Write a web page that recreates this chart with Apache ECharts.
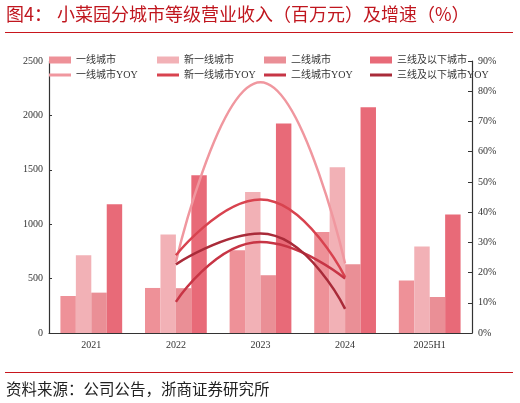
<!DOCTYPE html>
<html>
<head>
<meta charset="utf-8">
<script src="https://cdn.jsdelivr.net/npm/echarts@6/dist/echarts.min.js"></script>
<style>
  html, body { margin: 0; padding: 0; background: #fff; }
  #main { width: 520px; height: 403px; }
</style>
</head>
<body>
<div id="main"></div>
<script>
// 数据
var years = ['2021', '2022', '2023', '2024', '2025H1'];
var barNames = ['一线城市', '新一线城市', '二线城市', '三线及以下城市'];
var lineNames = ['一线城市YOY', '新一线城市YOY', '二线城市YOY', '三线及以下城市YOY'];

var tier1 = [340, 414, 761, 929, 482];
var newTier1 = [715, 905, 1297, 1524, 794];
var tier2 = [371, 412, 531, 632, 331];
var tier3 = [1184, 1451, 1926, 2074, 1089];

var tier1Yoy = [null, 23.5, 83, 23, null];
var newTier1Yoy = [null, 25.7, 44.2, 18.5, null];
var tier2Yoy = [null, 10.3, 30.1, 18, null];
var tier3Yoy = [null, 22.7, 32.9, 8, null];

var barColors = ['#ee9198', '#f2b1b6', '#ea8f96', '#e86a78'];
var lineColors = ['#f0979f', '#d8434f', '#c73545', '#a92b39'];

var serif = 'Liberation Serif, Noto Sans CJK SC';

function buildLegends() {
    let lefts = [49, 157, 264, 370];
    let legends = [];
    for (let i = 0; i < 4; i++) {
        legends.push({
            data: [{ name: barNames[i], icon: 'rect' }], left: lefts[i], top: 55, padding: 0,
            itemWidth: 22, itemHeight: 7, itemGap: 4,
            textStyle: { fontSize: 10, color: '#333', fontFamily: serif }
        });
        legends.push({
            data: [{ name: lineNames[i], icon: 'rect' }], left: lefts[i], top: 70, padding: 0,
            itemWidth: 22, itemHeight: 3, itemGap: 4,
            textStyle: { fontSize: 10, color: '#333', fontFamily: serif }
        });
    }
    return legends;
}

function echart() {
    let dom = document.getElementById('main');
    let myChart = echarts.init(dom, null, { renderer: 'canvas' });
    let barData = [tier1, newTier1, tier2, tier3];
    let lineData = [tier1Yoy, newTier1Yoy, tier2Yoy, tier3Yoy];
    let series = [];
    for (let i = 0; i < 4; i++) {
        series.push({
            name: barNames[i], type: 'bar', data: barData[i],
            barGap: '0%', barCategoryGap: '27%',
            itemStyle: { color: barColors[i] }
        });
    }
    for (let i = 0; i < 4; i++) {
        series.push({
            name: lineNames[i], type: 'line', yAxisIndex: 1, data: lineData[i],
            smooth: true, showSymbol: false, symbol: 'none', z: 5,
            itemStyle: { color: lineColors[i] },
            lineStyle: { color: lineColors[i], width: 2.5 }
        });
    }
    let option = {
        animation: false,
        legend: buildLegends(),
        grid: { left: 49, right: 48, top: 61, bottom: 70 },
        xAxis: {
            type: 'category', data: years,
            axisLine: { lineStyle: { color: '#333', width: 1.2 } },
            axisTick: { show: false },
            axisLabel: { fontSize: 10, color: '#333', fontFamily: serif, margin: 7 }
        },
        yAxis: [
            {
                type: 'value', min: 0, max: 2500, interval: 500,
                axisLine: { show: true, lineStyle: { color: '#333', width: 1.2 } },
                axisTick: { show: true, inside: true, length: 3, lineStyle: { color: '#333' } },
                splitLine: { show: false },
                axisLabel: { fontSize: 10, color: '#333', fontFamily: serif, margin: 6,
                    formatter: function (v) { return String(v); } }
            },
            {
                type: 'value', min: 0, max: 90, interval: 10,
                axisLine: { show: true, lineStyle: { color: '#333', width: 1.2 } },
                axisTick: { show: true, inside: true, length: 4, lineStyle: { color: '#333' } },
                splitLine: { show: false },
                axisLabel: { fontSize: 10, color: '#333', fontFamily: serif, margin: 6, formatter: '{value}%' }
            }
        ],
        graphic: [
            { type: 'text', left: 6, top: 5, style: { text: '图4：', fontSize: 18, fill: '#c0161e', fontFamily: 'Noto Sans CJK SC' } },
            { type: 'text', left: 57, top: 5, style: { text: '小菜园分城市等级营业收入（百万元）及增速（%）', fontSize: 18, fill: '#c0161e', fontFamily: 'Noto Sans CJK SC' } },
            { type: 'line', shape: { x1: 5, y1: 32.5, x2: 513, y2: 32.5 }, style: { stroke: '#c8161d', lineWidth: 1 } },
            { type: 'line', shape: { x1: 5, y1: 372.5, x2: 513, y2: 372.5 }, style: { stroke: '#c8161d', lineWidth: 1 } },
            { type: 'text', left: 6, top: 381, style: { text: '资料来源：公司公告，浙商证券研究所', fontSize: 15.5, fill: '#222', fontFamily: 'Noto Sans CJK SC' } }
        ],
        series: series
    };
    myChart.setOption(option);
}

echart();
</script>
</body>
</html>
